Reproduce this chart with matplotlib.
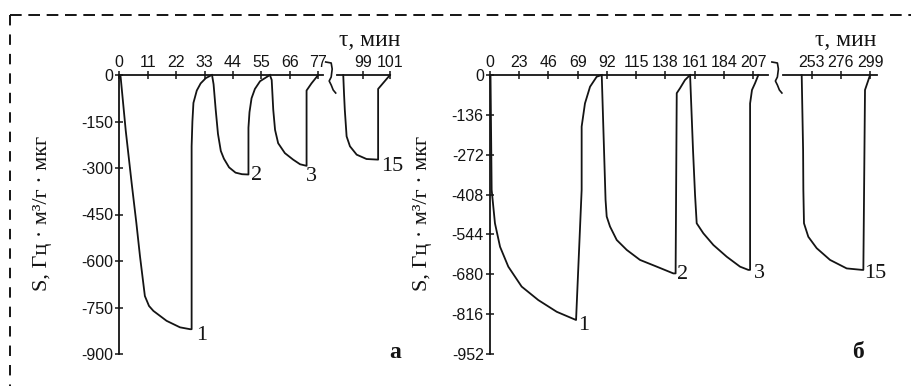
import matplotlib.pyplot as plt
import matplotlib.transforms as mtransforms
from matplotlib.lines import Line2D

plt.rcParams['font.family'] = ['Liberation Sans', 'DejaVu Sans']
plt.rcParams['axes.unicode_minus'] = False
plt.rcParams['lines.scale_dashes'] = False

# --- panel "а": time, min / S, Hz*m3/g*ug
a_xticks = [0, 11, 22, 33, 44, 55, 66, 77, 94.4, 104.8]
a_xlabels = ['0', '11', '22', '33', '44', '55', '66', '77', '99', '101']
a_yticks = [0, -150, -300, -450, -600, -750, -900]

a1_t = [0, 0.5, 2.5, 4.8, 6.6, 8.0, 9.9, 11.5, 13.2, 18.3, 23.5, 27.4, 28.0, 28.0, 28.3, 28.7, 30.0, 31.5, 33.5, 35.8]
a1_s = [0, -5, -180, -350, -477, -584, -713, -745, -761, -793, -814, -820, -820, -230, -150, -90, -50, -27, -10, 0]
a2_t = [35.9, 36.5, 37.3, 38.2, 39.3, 40.5, 42.5, 45.0, 47.5, 50.0, 50.0, 50.4, 51.2, 52.5, 54.5, 58.3]
a2_s = [0, -30, -110, -190, -245, -270, -298, -315, -320, -321, -170, -120, -75, -45, -20, 0]
a3_t = [58.3, 59.0, 59.6, 60.3, 61.5, 64.1, 67.3, 70.0, 72.5, 72.5, 74.4, 77.0]
a3_s = [0, -16, -112, -177, -220, -252, -273, -288, -293, -50, -27, 0]
a15_t = [86.7, 87.0, 87.3, 88.0, 89.3, 91.9, 95.7, 100.2, 100.2, 104.8]
a15_s = [0, -60, -112, -198, -230, -257, -271, -273, -45, 0]

# --- panel "б"
b_xticks = [0, 23, 46, 69, 92, 115, 138, 161, 184, 207, 253, 276, 299]
b_yticks = [0, -136, -272, -408, -544, -680, -816, -952]

b1_t = [0.4, 1.3, 3.9, 7.9, 14.4, 24.9, 38.0, 52.5, 67.7, 72.1, 72.1, 74.7, 78.7, 83.9, 87.9]
b1_s = [0, -392, -506, -586, -654, -722, -768, -808, -836, -392, -176, -97, -40, -6, 0]
b2_t = [87.9, 89.7, 90.9, 91.8, 94.4, 99.7, 107.6, 118.0, 131.2, 144.2, 146.0, 146.9, 149.5, 153.4, 157.4]
b2_s = [0, -256, -426, -483, -517, -563, -597, -631, -654, -677, -677, -62, -45, -17, 0]
b3_t = [157.4, 159.7, 161.3, 162.6, 167.8, 175.7, 186.2, 196.7, 203.2, 204.6, 204.6, 206.1, 208.5, 211.1]
b3_s = [0, -256, -409, -506, -540, -580, -620, -654, -665, -665, -97, -51, -28, 0]
b15_t = [245.2, 246.3, 246.5, 247.0, 250.4, 257.0, 267.5, 280.6, 292.7, 293.7, 295.0, 299.0]
b15_s = [0, -256, -392, -506, -552, -591, -631, -660, -665, -665, -51, 0]

curve_names = ['1', '2', '3', '15']
ylabel = 'S, Гц · м³/г · мкг'
INK = '#141414'

W, H = 911, 386
fig = plt.figure(figsize=(W / 100, H / 100), dpi=100)


def panel(rect, xlim, ylim, xticks, xlabels, yticks, gap, curves, offs):
    ax = fig.add_axes(rect)
    ax.set_xlim(*xlim)
    ax.set_ylim(*ylim)
    for s in ['top', 'right', 'bottom']:
        ax.spines[s].set_visible(False)
    ax.spines['left'].set_linewidth(1.3)
    ax.spines['left'].set_color(INK)
    ax.xaxis.tick_top()
    ax.set_xticks(xticks, xlabels)
    ax.set_yticks(yticks, [str(v) for v in yticks])
    ax.tick_params(axis='x', direction='inout', length=6, width=1.1, pad=0.5,
                   labelsize=11.5, colors=INK)
    ax.tick_params(axis='y', direction='inout', length=6, width=1.1, pad=1.5,
                   labelsize=11.5, colors=INK)
    ax.patch.set_visible(False)
    # broken top axis
    ax.plot([xlim[0], gap[0]], [0, 0], color=INK, lw=1.3, clip_on=False)
    ax.plot([gap[1], xlim[1]], [0, 0], color=INK, lw=1.3, clip_on=False)
    mid = (gap[0] + gap[1]) / 2
    sq_x = [-4, 1.5, 2.5, 1.5, -0.5, 1.5, 3.5, 6]
    sq_y = [13, 12, 6, -2, -6, -10, -15, -18]
    tr = mtransforms.ScaledTranslation(mid, 0, ax.transData)
    ax.add_line(Line2D(sq_x, sq_y, color=INK, lw=1.2,
                       transform=mtransforms.IdentityTransform() + tr, clip_on=False))
    for (t, s), name, (dx, dy) in zip(curves, curve_names, offs):
        ax.plot(t, s, color=INK, lw=1.3, clip_on=False)
        i = s.index(min(s))
        ax.annotate(name, (t[i], s[i]), xytext=(dx, dy), textcoords='offset pixels',
                    ha='left', va='center', fontsize=16, family='Liberation Serif',
                    color=INK)
    return ax


panel([119.3 / W, 32 / H, 270.7 / W, 279 / H], (0, 104.8), (-900, 0),
      a_xticks, a_xlabels, a_yticks, (78.8, 84.1),
      [(a1_t, a1_s), (a2_t, a2_s), (a3_t, a3_s), (a15_t, a15_s)],
      [(6, -6), (3, -1), (-1, -11), (3, -7)])

panel([490 / W, 32 / H, 386.7 / W, 279 / H], (0, 304.2), (-952, 0),
      b_xticks, [str(v) for v in b_xticks], b_yticks, (219, 230.8),
      [(b1_t, b1_s), (b2_t, b2_s), (b3_t, b3_s), (b15_t, b15_s)],
      [(2, -5), (4, -1), (6, -4), (2, -4)])

serif = dict(family='Liberation Serif', color=INK)
fig.text(43 / W, 1 - 213 / H, ylabel, rotation=90, ha='center', va='center', fontsize=16, **serif)
fig.text(422 / W, 1 - 213 / H, ylabel, rotation=90, ha='center', va='center', fontsize=16, **serif)
fig.text(370 / W, 1 - 40 / H, 'τ, мин', ha='center', va='center', fontsize=17, **serif)
fig.text(846 / W, 1 - 40 / H, 'τ, мин', ha='center', va='center', fontsize=17, **serif)
fig.text(395 / W, 1 - 353 / H, 'а', ha='center', va='center', fontsize=17, weight='bold', **serif)
fig.text(858 / W, 1 - 352 / H, 'б', ha='center', va='center', fontsize=17, weight='bold', **serif)

# dashed frame of the scanned page
fig.add_artist(Line2D([10 / W, 1], [1 - 15 / H] * 2, color=INK, lw=1.4,
                      linestyle=(0, (8.4, 4.8))))
fig.add_artist(Line2D([10 / W] * 2, [1 - 15 / H, 0], color=INK, lw=1.4,
                      linestyle=(0, (7.5, 6.5))))

fig.savefig('out.png', dpi=100, facecolor='white')
